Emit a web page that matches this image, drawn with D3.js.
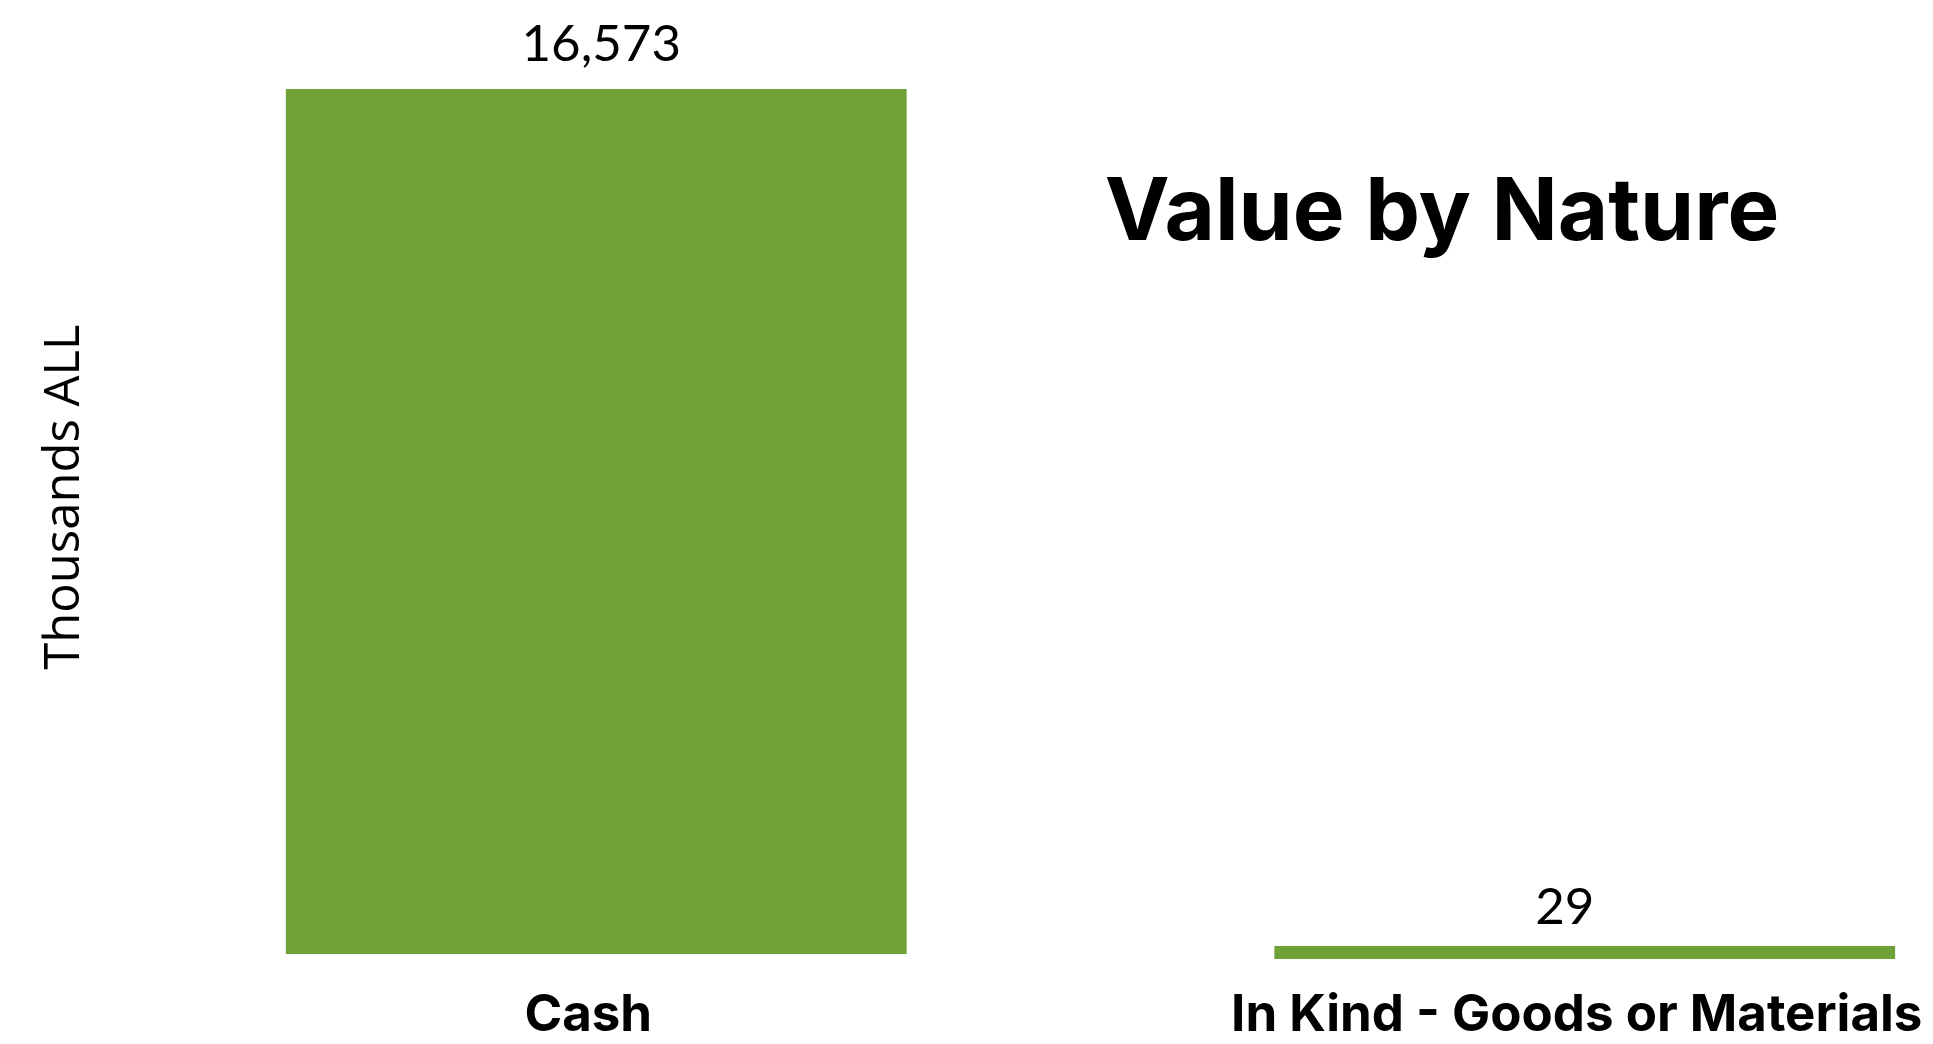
<!DOCTYPE html>
<html>
<head>
<meta charset="utf-8">
<script src="https://cdn.jsdelivr.net/npm/d3@7"></script>
<style>
  html, body { margin: 0; padding: 0; background: #fff; }
  svg { display: block; }
</style>
</head>
<body>
<svg id="chart"></svg>
<script>
(function () {
  'use strict';
  var width = 1933;
  var height = 1044;

  // chart data
  var categories = ['Cash', 'In Kind - Goods or Materials'];
  var values = [16573, 29];
  var valueLabels = ['16,573', '29'];
  var title = 'Value by Nature';
  var yTitle = 'Thousands ALL';

  var barColor = '#70a038';
  var baseline = 954;
  var plotTop = 89;
  var minBar = 13;

  var svg = d3.select('#chart')
    .attr('width', width)
    .attr('height', height);

  var x = d3.scaleBand()
    .domain(categories)
    .range([102, 2079])
    .paddingInner(0.372)
    .paddingOuter(0.186);

  var y = d3.scaleLinear()
    .domain([0, d3.max(values)])
    .range([baseline, plotTop]);

  var data = categories.map(function (c, i) {
    return { cat: c, value: values[i], label: valueLabels[i] };
  });

  // bars - very small ones get drawn as a thin band centred on the value
  svg.selectAll('rect.bar')
    .data(data)
    .enter().append('rect')
    .attr('class', 'bar')
    .attr('x', function (d) { return x(d.cat); })
    .attr('width', x.bandwidth())
    .attr('y', function (d) {
      var h = baseline - y(d.value);
      return h < minBar ? y(d.value) - minBar / 2 : y(d.value);
    })
    .attr('height', function (d) {
      return Math.max(baseline - y(d.value), minBar);
    })
    .attr('fill', barColor);

  // value labels (the small bar's label sits a bit left of centre)
  svg.selectAll('text.val')
    .data(data)
    .enter().append('text')
    .attr('class', 'val')
    .attr('x', function (d) {
      var mid = x(d.cat) + x.bandwidth() / 2;
      return baseline - y(d.value) < minBar ? mid - 20 : mid + 5;
    })
    .attr('y', function (d) { return y(d.value) - 28; })
    .attr('text-anchor', 'middle')
    .style('font-family', 'Lato, sans-serif')
    .style('font-size', '51px')
    .style('fill', '#000')
    .text(function (d) { return d.label; });

  // category axis labels
  svg.selectAll('text.cat')
    .data(data)
    .enter().append('text')
    .attr('class', 'cat')
    .attr('x', function (d) { return x(d.cat) + x.bandwidth() / 2 - 8; })
    .attr('y', 1031)
    .attr('text-anchor', 'middle')
    .style('font-family', 'Inter, sans-serif')
    .style('font-weight', 700)
    .style('font-size', '51px')
    .style('fill', '#000')
    .text(function (d) { return d.cat; });

  // y axis title
  svg.append('text')
    .attr('transform', 'translate(79,497) rotate(-90)')
    .attr('text-anchor', 'middle')
    .style('font-family', '"Open Sans", sans-serif')
    .style('font-weight', 400)
    .style('font-size', '49px')
    .style('fill', '#000')
    .text(yTitle);

  // chart title
  svg.append('text')
    .attr('x', 1442)
    .attr('y', 240)
    .attr('text-anchor', 'middle')
    .style('font-family', 'Inter, sans-serif')
    .style('font-weight', 700)
    .style('font-size', '87px')
    .style('fill', '#000')
    .text(title);
})();
</script>
</body>
</html>
